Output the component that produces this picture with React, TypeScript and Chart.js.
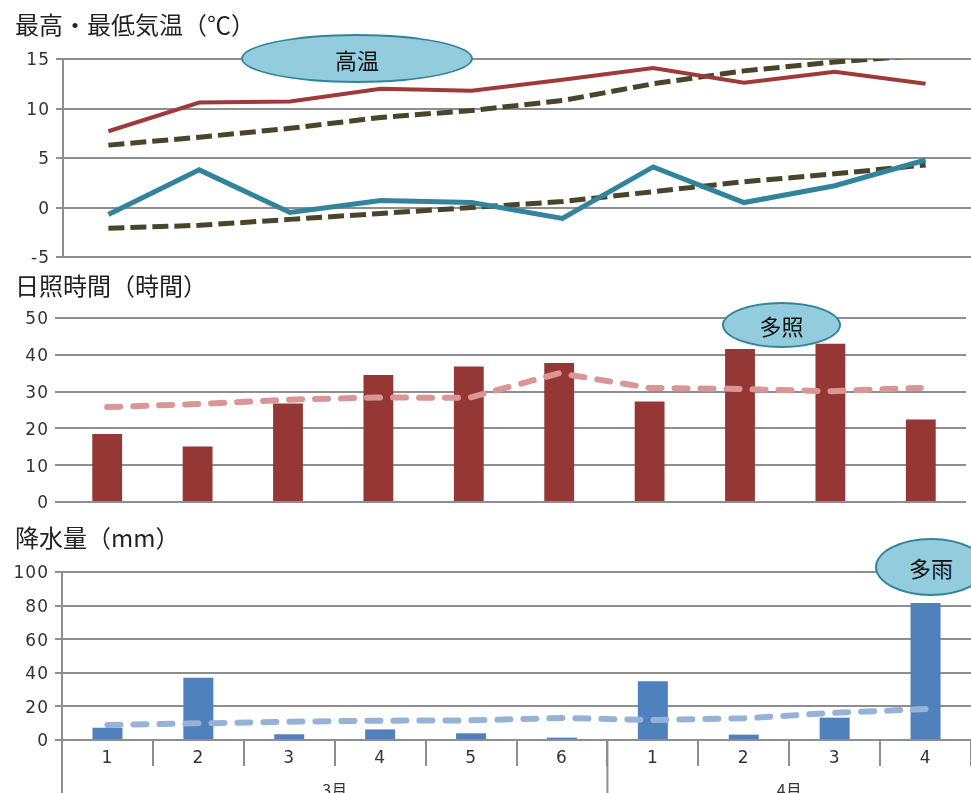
import React, { useEffect, useRef } from "react";
import { Chart, registerables } from "chart.js";

Chart.register(...registerables);

const categories = ["1", "2", "3", "4", "5", "6", "1", "2", "3", "4"];
const monthGroups = ["3月", "4月"];
const monthGroupSizes = [6, 4];

const maxTemp = [7.7, 10.6, 10.7, 12.0, 11.8, 12.9, 14.1, 12.6, 13.7, 12.5];
const maxTempNormal = [6.3, 7.1, 8.0, 9.1, 9.8, 10.8, 12.5, 13.8, 14.7, 15.4];
const minTemp = [-0.7, 3.8, -0.5, 0.7, 0.5, -1.1, 4.1, 0.5, 2.2, 4.8];
const minTempNormal = [-2.1, -1.8, -1.2, -0.6, 0.0, 0.6, 1.6, 2.6, 3.4, 4.3];

const sunshine = [18.5, 15.1, 26.8, 34.5, 36.8, 37.8, 27.3, 41.6, 43.0, 22.4];
const sunshineNormal = [25.8, 26.6, 27.8, 28.4, 28.3, 35.0, 31.0, 30.7, 30.1, 31.0];

const precip = [7.3, 37.0, 3.4, 6.3, 4.0, 1.4, 34.9, 3.2, 13.3, 81.6];
const precipNormal = [8.9, 9.9, 10.9, 11.5, 11.7, 13.1, 11.9, 12.9, 16.2, 18.4];

const FONT = "'Noto Sans CJK JP', 'Noto Sans', sans-serif";
const NUMFONT = "'DejaVu Sans', sans-serif";
const GRID = "#8e8e8e";

const spacingPlugin = {
  id: "spacing",
  beforeDraw(chart: any) {
    chart.ctx.letterSpacing = "1px";
  },
};

function yScale(min: number, max: number, step: number, width: number, border: boolean) {
  return {
    min,
    max,
    ticks: { stepSize: step, padding: 6, labelOffset: 2, color: "#333", font: { size: 17, family: NUMFONT } },
    grid: { color: GRID, lineWidth: 2, tickLength: 7, drawTicks: true },
    border: { display: border, color: GRID, width: 2 },
    afterFit: (s: any) => {
      s.width = width;
      s.paddingTop = 0;
      s.paddingBottom = 0;
    },
  };
}

const hiddenX = {
  type: "category" as const,
  offset: true,
  display: false,
  grid: { display: false },
};

const groupPlugin = {
  id: "groupAxis",
  afterDraw(chart: any) {
    const { ctx, chartArea, scales } = chart;
    const x = scales.x;
    const h = chart.height;
    ctx.save();
    ctx.strokeStyle = GRID;
    ctx.lineWidth = 2;
    let start = 0;
    const bounds: number[] = [chartArea.left];
    monthGroupSizes.forEach((n) => {
      const end = start + n - 1;
      const right =
        end + 1 < categories.length
          ? (x.getPixelForValue(end) + x.getPixelForValue(end + 1)) / 2
          : chartArea.right;
      bounds.push(right);
      start += n;
    });
    for (let i = 0; i < bounds.length - 1; i++) {
      const bx = bounds[i];
      ctx.beginPath();
      ctx.moveTo(bx, chartArea.bottom);
      ctx.lineTo(bx, h);
      ctx.stroke();
    }
    ctx.letterSpacing = "0px";
    ctx.fillStyle = "#333";
    ctx.font = "16px " + FONT;
    ctx.textAlign = "center";
    ctx.textBaseline = "middle";
    monthGroups.forEach((g, i) => {
      ctx.fillText(g, (bounds[i] + bounds[i + 1]) / 2, chartArea.bottom + 50);
    });
    ctx.restore();
  },
};

export default function App() {
  const r1 = useRef<HTMLCanvasElement>(null);
  const r2 = useRef<HTMLCanvasElement>(null);
  const r3 = useRef<HTMLCanvasElement>(null);

  useEffect(() => {
    const c1 = new Chart(r1.current!, {
      type: "line",
      data: {
        labels: categories,
        datasets: [
          { data: maxTemp, borderColor: "#9E3B3A", borderWidth: 4, pointRadius: 0, tension: 0, order: 0 },
          { data: minTemp, borderColor: "#31849B", borderWidth: 5, pointRadius: 0, tension: 0, order: 1 },
          { data: maxTempNormal, borderColor: "#4A452A", borderWidth: 5, borderDash: [16, 6], pointRadius: 0, tension: 0, order: 2 },
          { data: minTempNormal, borderColor: "#4A452A", borderWidth: 5, borderDash: [16, 6], pointRadius: 0, tension: 0, order: 3 },
        ],
      },
      options: {
        responsive: false,
        animation: false,
        layout: { padding: { top: 59, bottom: 8, left: 0, right: 0 } },
        plugins: { legend: { display: false }, tooltip: { enabled: false } },
        scales: { x: hiddenX, y: yScale(-5, 15, 5, 63, true) as any },
      },
      plugins: [spacingPlugin],
    });

    const c2 = new Chart(r2.current!, {
      type: "bar",
      data: {
        labels: categories,
        datasets: [
          {
            type: "line",
            data: sunshineNormal,
            borderColor: "#D99694",
            borderWidth: 6,
            borderDash: [13, 13],
            borderCapStyle: "round",
            pointRadius: 0,
            tension: 0,
            order: 0,
          } as any,
          {
            type: "bar",
            data: sunshine,
            backgroundColor: "#953735",
            barPercentage: 0.33,
            categoryPercentage: 1,
            order: 1,
          },
        ],
      },
      options: {
        responsive: false,
        animation: false,
        layout: { padding: { top: 53, bottom: 18, left: 0, right: 5 } },
        plugins: { legend: { display: false }, tooltip: { enabled: false } },
        scales: { x: hiddenX, y: yScale(0, 50, 10, 62, false) as any },
      },
      plugins: [spacingPlugin],
    });

    const c3 = new Chart(r3.current!, {
      type: "bar",
      data: {
        labels: categories,
        datasets: [
          {
            type: "line",
            data: precipNormal,
            borderColor: "#95B3D7",
            borderWidth: 6,
            borderDash: [13, 13],
            borderCapStyle: "round",
            pointRadius: 0,
            tension: 0,
            order: 0,
          } as any,
          {
            type: "bar",
            data: precip,
            backgroundColor: "#4F81BD",
            barPercentage: 0.33,
            categoryPercentage: 1,
            order: 1,
          },
        ],
      },
      options: {
        responsive: false,
        animation: false,
        layout: { padding: { top: 52, bottom: 0, left: 0, right: 0 } },
        plugins: { legend: { display: false }, tooltip: { enabled: false } },
        scales: {
          x: {
            type: "category",
            offset: true,
            grid: { color: GRID, lineWidth: 2, drawOnChartArea: false, drawTicks: true, tickLength: 26, offset: true },
            border: { display: false },
            ticks: { padding: -18, color: "#333", font: { size: 17, family: NUMFONT }, maxRotation: 0, autoSkip: false },
            afterFit: (s: any) => {
              s.height = 53;
              s.paddingLeft = 0;
              s.paddingRight = 0;
            },
          } as any,
          y: yScale(0, 100, 20, 62, true) as any,
        },
      },
      plugins: [spacingPlugin, groupPlugin],
    });

    return () => {
      c1.destroy();
      c2.destroy();
      c3.destroy();
    };
  }, []);

  const title: React.CSSProperties = {
    position: "absolute",
    left: 15,
    fontFamily: FONT,
    fontSize: 24,
    lineHeight: "28px",
    color: "#222",
    whiteSpace: "nowrap",
  };
  const bubble = (left: number, top: number, w: number, h: number): React.CSSProperties => ({
    position: "absolute",
    left,
    top,
    width: w,
    height: h,
    boxSizing: "border-box",
    borderRadius: "50%",
    background: "#93CDDD",
    border: "2px solid #31849B",
    display: "flex",
    alignItems: "center",
    justifyContent: "center",
    fontFamily: FONT,
    fontSize: 22,
    color: "#111",
  });

  return (
    <div style={{ position: "absolute", left: 0, top: 0, width: 971, height: 793, overflow: "hidden", background: "#fff" }}>
      <canvas ref={r1} width={971} height={265} style={{ position: "absolute", left: 0, top: 0 }} />
      <canvas ref={r2} width={971} height={255} style={{ position: "absolute", left: 0, top: 265 }} />
      <canvas ref={r3} width={971} height={273} style={{ position: "absolute", left: 0, top: 520 }} />
      <div style={{ ...title, top: 10 }}>最高・最低気温（℃）</div>
      <div style={{ ...title, top: 271 }}>日照時間（時間）</div>
      <div style={{ ...title, top: 523 }}>降水量（mm）</div>
      <div style={bubble(241, 34, 232, 49)}>高温</div>
      <div style={bubble(722, 302, 119, 46)}>多照</div>
      <div style={{ ...bubble(875, 538, 112, 58), justifyContent: "flex-start", paddingLeft: 32 }}>多雨</div>
    </div>
  );
}
